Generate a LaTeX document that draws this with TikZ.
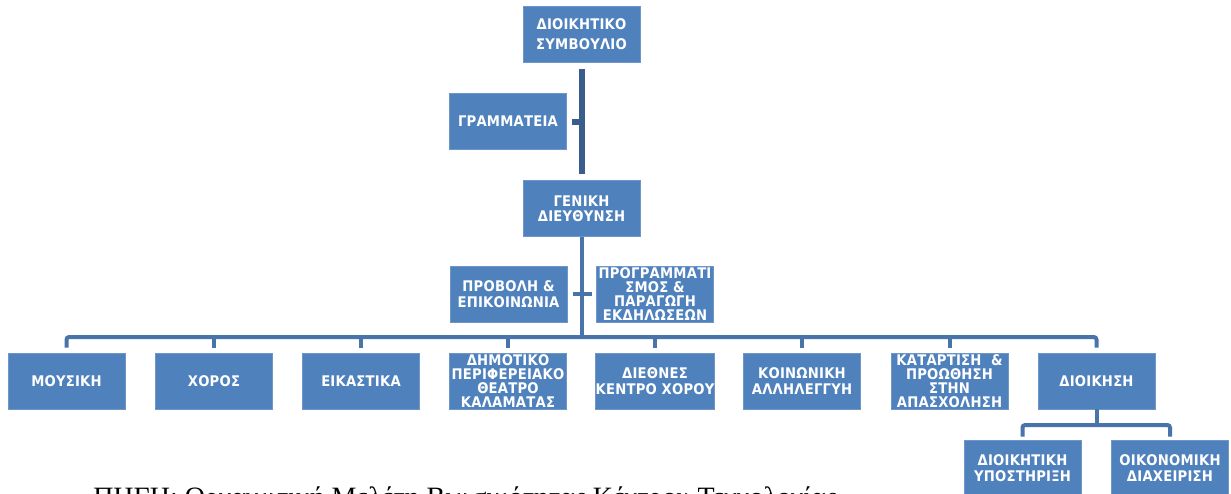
\documentclass[tikz,border=0pt]{standalone}
\usepackage{fontspec}
\setmainfont{Liberation Serif}
\newfontfamily\boxfont{DejaVu Sans Condensed}[LetterSpace=1.5]
\usetikzlibrary{calc}
\definecolor{boxblue}{HTML}{4F81BD}
\definecolor{boxedge}{HTML}{6E97C8}
\definecolor{conncol}{RGB}{72,116,170}
\definecolor{conndark}{RGB}{58,94,140}
\tikzset{
  unit/.style={fill=boxblue, draw=boxedge, line width=0.5pt, text=white,
    minimum width=87.75pt, minimum height=42pt, inner sep=0pt, align=center,
    font=\boxfont\bfseries\fontsize{11}{11.6}\selectfont},
  tallunit/.style={unit, font=\boxfont\bfseries\fontsize{11}{10.6}\selectfont},
  topunit/.style={unit, font=\boxfont\bfseries\fontsize{11}{15}\selectfont},
  conn/.style={draw=conncol, line width=3pt, rounded corners=2pt},
  conntop/.style={draw=conndark, line width=4.5pt}
}
\begin{document}
\begin{tikzpicture}[x=0.75pt,y=-0.75pt]
\useasboundingbox (0,0) rectangle (1231,493);
\fill[white] (0,0) rectangle (1231,493);
% source line (cut off at the bottom edge, as in the reference)
\node[anchor=base west, inner sep=0pt, font=\fontsize{21}{24}\selectfont] (src) at (93,506)
  {ΠΗΓΗ: Οργανωτική Μελέτη Βιωσιμότητας Κέντρου Τεχνολογίας};
% top
\node[topunit] (ds) at (581.5,34.5) {ΔΙΟΙΚΗΤΙΚΟ\\ΣΥΜΒΟΥΛΙΟ};
\node[unit] (gram) at (508,121.5) {ΓΡΑΜΜΑΤΕΙΑ};
\node[unit] (gen) at (581.5,208.5) {ΓΕΝΙΚΗ\\ΔΙΕΥΘΥΝΣΗ};
\node[unit] (prov) at (508.5,294) {ΠΡΟΒΟΛΗ \&\\ΕΠΙΚΟΙΝΩΝΙΑ};
\node[tallunit] (prog) at (655,294) {ΠΡΟΓΡΑΜΜΑΤΙ\\ΣΜΟΣ \&\\ΠΑΡΑΓΩΓΗ\\ΕΚΔΗΛΩΣΕΩΝ};
% bottom row
\node[unit] (mous) at (66.5,381) {ΜΟΥΣΙΚΗ};
\node[unit] (xor) at (214,381) {ΧΟΡΟΣ};
\node[unit] (eik) at (361,381) {ΕΙΚΑΣΤΙΚΑ};
\node[tallunit] (thea) at (508,381) {ΔΗΜΟΤΙΚΟ\\ΠΕΡΙΦΕΡΕΙΑΚΟ\\ΘΕΑΤΡΟ\\ΚΑΛΑΜΑΤΑΣ};
\node[unit] (kent) at (655,381) {ΔΙΕΘΝΕΣ\\ΚΕΝΤΡΟ ΧΟΡΟΥ};
\node[unit] (koin) at (802,381) {ΚΟΙΝΩΝΙΚΗ\\ΑΛΛΗΛΕΓΓΥΗ};
\node[tallunit] (kat) at (949.5,381) {ΚΑΤΑΡΤΙΣΗ \ \&\\ΠΡΟΩΘΗΣΗ\\ΣΤΗΝ\\ΑΠΑΣΧΟΛΗΣΗ};
\node[unit] (dioik) at (1096.5,381) {ΔΙΟΙΚΗΣΗ};
% sub row
\node[unit] (ypo) at (1022.5,468) {ΔΙΟΙΚΗΤΙΚΗ\\ΥΠΟΣΤΗΡΙΞΗ};
\node[unit] (oik) at (1170,468) {ΟΙΚΟΝΟΜΙΚΗ\\ΔΙΑΧΕΙΡΙΣΗ};
% helper coordinates
\coordinate (bus) at (0,337);
\coordinate (subbus) at (0,425);
% connectors
\draw[conntop, shorten <=4.5pt, shorten >=4.5pt] (ds.south) -- (gen.north);
\draw[conntop, shorten <=3.5pt] (gram.east) -- (gram.east -| ds.south);
\draw[conn] (gen.south) -- (gen.south |- bus);
\draw[conn, rounded corners=0pt, shorten <=4.5pt, shorten >=3.5pt] (prov.east) -- (prog.west);
\draw[conn] ($(mous.north)+(0,-5)$) -- (mous.north |- bus) -- (dioik.north |- bus) -- ($(dioik.north)+(0,-5)$);
\foreach \n in {xor,eik,thea,kent,koin,kat}
  \draw[conn] (\n.north |- bus) -- ($(\n.north)+(0,-5)$);
\draw[conn] (dioik.south) -- (dioik.south |- subbus);
\draw[conn] ($(ypo.north)+(0,-3)$) -- (ypo.north |- subbus) -- (oik.north |- subbus) -- ($(oik.north)+(0,-3)$);
\end{tikzpicture}
\end{document}
